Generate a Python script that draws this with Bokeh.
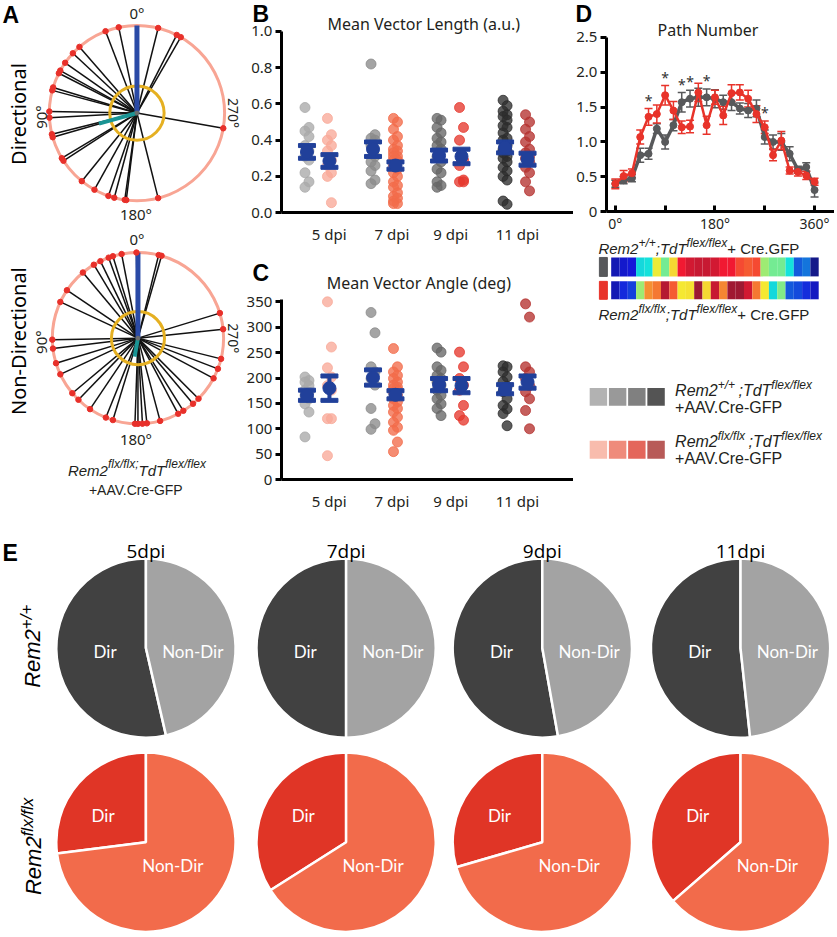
import math
from bokeh.plotting import figure
from bokeh.layouts import row, column
from bokeh.models import (Range1d, FixedTicker, ColumnDataSource, Whisker,
                          TeeHead, PrintfTickFormatter)
from bokeh.transform import linear_cmap
from bokeh.core.properties import value
from bokeh.embed import file_html
from bokeh.resources import INLINE

# ====================== DATA ======================
# A: individual path angles (deg, counter-clockwise, 0 deg at top)
dir_path_angles = [12, 21, 41, 47, 55, 61, 63, 73, 75, 89, 93, 104, 106, 121, 123,
                   141, 151, 161, 165, 172, 173, 194, 260, 330, 333, 346]
nondir_path_angles = [1, 11, 17, 20, 26, 31, 40, 56, 65, 91, 97, 107, 115, 130, 136,
                      146, 158, 163, 178, 180, 183, 186, 195, 208, 212, 220, 225,
                      242, 249, 256, 276, 287, 344, 346]
dir_mean_angle = 105.5
dir_mean_length = 0.45
nondir_mean_angle = 170.0
nondir_mean_length = 0.22
rayleigh_threshold = 0.31

dpi_labels = ["5 dpi", "7 dpi", "9 dpi", "11 dpi"]

# B: mean vector length (a.u.)
mvl_wt_5dpi = [0.58, 0.47, 0.45, 0.42, 0.37, 0.34, 0.31, 0.29, 0.22, 0.17, 0.14]
mvl_ko_5dpi = [0.52, 0.43, 0.40, 0.37, 0.34, 0.29, 0.26, 0.22, 0.20, 0.055]
mvl_wt_7dpi = [0.82, 0.43, 0.41, 0.40, 0.37, 0.31, 0.28, 0.26, 0.23, 0.18, 0.16]
mvl_ko_7dpi = [0.52, 0.50, 0.46, 0.42, 0.40, 0.37, 0.35, 0.34, 0.33, 0.31, 0.31, 0.29,
               0.29, 0.28, 0.26, 0.24, 0.22, 0.20, 0.17, 0.15, 0.14, 0.11, 0.09, 0.08,
               0.064, 0.05, 0.05]
mvl_wt_9dpi = [0.52, 0.51, 0.47, 0.44, 0.41, 0.39, 0.37, 0.35, 0.31, 0.28, 0.24, 0.22,
               0.17, 0.15, 0.14]
mvl_ko_9dpi = [0.58, 0.47, 0.40, 0.29, 0.26, 0.18, 0.17, 0.17]
mvl_wt_11dpi = [0.62, 0.59, 0.56, 0.54, 0.53, 0.51, 0.48, 0.47, 0.44, 0.41, 0.40, 0.37,
                0.35, 0.34, 0.33, 0.31, 0.30, 0.28, 0.25, 0.23, 0.20, 0.18, 0.064, 0.046]
mvl_ko_11dpi = [0.54, 0.50, 0.46, 0.42, 0.39, 0.35, 0.33, 0.31, 0.30, 0.28, 0.25, 0.22,
                0.17, 0.12]
mvl_wt_mean = [0.335, 0.35, 0.315, 0.36]
mvl_wt_sem = [0.035, 0.04, 0.03, 0.03]
mvl_ko_mean = [0.285, 0.26, 0.31, 0.295]
mvl_ko_sem = [0.035, 0.02, 0.04, 0.033]

# C: mean vector angle (deg)
mva_wt_5dpi = [202, 195, 192, 185, 176, 172, 166, 159, 149, 133, 84]
mva_ko_5dpi = [350, 261, 220, 202, 185, 176, 120, 120, 47]
mva_wt_7dpi = [329, 289, 222, 212, 199, 186, 140, 110, 99]
mva_ko_7dpi = [258, 222, 212, 205, 199, 192, 186, 182, 179, 176, 172, 166, 159, 153,
               146, 140, 133, 123, 113, 103, 97, 74, 55]
mva_wt_9dpi = [259, 251, 222, 215, 205, 199, 192, 186, 176, 166, 159, 149, 140, 126]
mva_ko_9dpi = [251, 222, 199, 186, 176, 146, 126, 117]
mva_wt_11dpi = [224, 222, 212, 202, 193, 183, 173, 159, 146, 139, 130, 106]
mva_ko_11dpi = [346, 320, 222, 212, 199, 185, 173, 159, 136, 100]
mva_wt_mean = [166, 201, 187, 178]
mva_wt_sem = [10, 15, 12, 9]
mva_ko_mean = [180, 167, 185, 192]
mva_ko_sem = [24, 8, 14, 12]

# D: path number per direction bin
path_bins = [0, 15, 30, 45, 60, 75, 90, 105, 120, 135, 150, 165, 180, 195, 210, 225,
             240, 255, 270, 285, 300, 315, 330, 345, 360]
path_wt_mean = [0.40, 0.45, 0.48, 0.81, 0.83, 1.19, 1.00, 1.24, 1.57, 1.62, 1.64, 1.64,
                1.62, 1.57, 1.57, 1.48, 1.45, 1.48, 1.07, 1.00, 1.00, 0.83, 0.60, 0.64, 0.31]
path_wt_sem = [0.05, 0.05, 0.05, 0.10, 0.08, 0.07, 0.10, 0.08, 0.14, 0.12, 0.13, 0.12,
               0.13, 0.10, 0.12, 0.08, 0.10, 0.12, 0.10, 0.10, 0.12, 0.10, 0.05, 0.06, 0.10]
path_ko_mean = [0.40, 0.51, 0.55, 1.07, 1.36, 1.40, 1.67, 1.45, 1.21, 1.22, 1.71, 1.24,
                1.64, 1.38, 1.70, 1.71, 1.62, 1.40, 1.21, 0.81, 1.02, 0.59, 0.57, 0.52, 0.43]
path_ko_sem = [0.07, 0.08, 0.06, 0.10, 0.12, 0.13, 0.14, 0.13, 0.09, 0.09, 0.13, 0.13,
               0.10, 0.13, 0.12, 0.11, 0.12, 0.12, 0.09, 0.08, 0.13, 0.05, 0.06, 0.06, 0.05]
path_sig_bins = [60, 90, 120, 135, 165, 270]

# E: fraction of directional cells
pie_titles = ["5dpi", "7dpi", "9dpi", "11dpi"]
wt_dir_fraction = [0.536, 0.50, 0.528, 0.517]
ko_dir_fraction = [0.27, 0.34, 0.295, 0.364]

# ====================== STYLE ======================
wt_colors = ["#a9a9a9", "#8a8a8a", "#676767", "#2d2d2d"]
ko_colors = ["#f8a999", "#f26c4a", "#e6392e", "#b5322f"]
legend_wt = ["#b2b2b2", "#999999", "#808080", "#545454"]
legend_ko = ["#f8bcad", "#ef8b7b", "#e4665b", "#b85a58"]
BLUE = "#21409a"
FONT = "Noto Sans"
FONT_L = "Liberation Sans"
TXT = "#231f20"
MID = 0.3465  # em-box centre above the baseline, as a fraction of the font size

S = 0.996


def s(v):
    return int(round(v * S))


TOTAL_W = s(837)
TOTAL_H = s(937)
WA = s(246)
WB = s(575) - WA
WD = TOTAL_W - WA - WB
HB = s(245)
HC = s(530) - HB
HD = s(234)
HDL = s(530) - HD
HE = TOTAL_H - HB - HC
TOP_C = HB / S   # reference y where panel C starts
TOP_DL = HD / S  # reference y where the heat strips start

ARIAL_W = {'R': 722, 'e': 556, 'm': 833, '2': 556, '+': 584, '/': 278, ';': 278,
           'T': 611, 'd': 556, 'f': 278, 'l': 222, 'x': 500, ' ': 278, 'C': 722,
           'r': 333, '.': 278, 'G': 778, 'F': 611, 'P': 667, 'A': 667, 'V': 667,
           '-': 333}


def tw(t, size):
    return sum(ARIAL_W.get(c, 556) for c in t) * size / 1000.0


def rich(p, x, y, pieces, ux, uy, angle=0.0, align="left", color=TXT):
    """x, y: start of the baseline (data units)."""
    total = sum(tw(t, sz) for t, sz, _, _ in pieces)
    cur = {"left": 0.0, "center": -total / 2.0, "right": -total}[align]
    for t, sz, rise, style in pieces:
        off = rise + MID * sz
        if angle == 0.0:
            px, py = x + cur / ux, y + off / uy
        else:
            px, py = x - off / ux, y + cur / uy
        p.text(x=[px], y=[py], text=[t], angle=angle, text_font=value(FONT_L),
               text_font_size=f"{sz}px", text_font_style=style, text_align="left",
               text_baseline="middle", text_color=color)
        cur += tw(t, sz)


def canvas(w, h, xr, yr, axes=False):
    kw = {} if axes else dict(x_axis_location=None, y_axis_location=None)
    p = figure(width=w, height=h, x_range=Range1d(*xr), y_range=Range1d(*yr),
               toolbar_location=None, output_backend="svg", min_border=0, **kw)
    p.outline_line_color = None
    p.xgrid.visible = False
    p.ygrid.visible = False
    return p


def plain(p, x, y, t, size, angle=0.0, align="center", baseline="middle", color=TXT,
          font=FONT, style="normal"):
    p.text(x=[x], y=[y], text=[t], angle=angle, text_font=value(font),
           text_font_size=f"{size}px", text_align=align, text_baseline=baseline,
           text_color=color, text_font_style=style)


def letter(p, x, y, t):
    plain(p, x, y, t, 23, align="left", baseline="middle", font=FONT_L,
          style="bold", color="black")


def style_axes(p, x_fixed, y_fixed, x_bounds, y_bounds):
    for ax in p.axis:
        ax.axis_line_width = 3
        ax.axis_line_color = "black"
        ax.major_label_text_font = FONT
        ax.major_label_text_font_size = "15px"
        ax.major_label_text_color = TXT
        ax.minor_tick_line_color = None
        ax.major_tick_line_width = 3
        ax.major_tick_line_color = "black"
    p.xaxis.fixed_location = x_fixed
    p.yaxis.fixed_location = y_fixed
    p.xaxis.bounds = x_bounds
    p.yaxis.bounds = y_bounds
    p.yaxis.major_tick_out = 6
    p.yaxis.major_tick_in = 0
    p.yaxis.major_label_standoff = 3


# ====================== PANEL A ======================
pa = canvas(WA, HB + HC, (0, WA / S), (-(HB + HC) / S, 0))


def polar(p, cx, cy, R, angles, mean_ang, mean_len):
    a = [math.radians(v) for v in angles]
    xs = [cx - R * math.sin(t) for t in a]
    ys = [-cy + R * math.cos(t) for t in a]
    p.circle(x=[cx], y=[-cy], radius=R, fill_color=None, line_color="#f8a594",
             line_width=3)
    p.segment(x0=[cx] * len(xs), y0=[-cy] * len(xs), x1=xs, y1=ys,
              line_color="#111111", line_width=1.5)
    p.circle(x=[cx], y=[-cy], radius=rayleigh_threshold * R, fill_color=None,
             line_color="#e5b022", line_width=3)
    p.segment(x0=[cx], y0=[-cy], x1=[cx], y1=[-cy + R], line_color="#2a4aa6",
              line_width=5)
    m = math.radians(mean_ang)
    p.segment(x0=[cx], y0=[-cy], x1=[cx - mean_len * R * math.sin(m)],
              y1=[-cy + mean_len * R * math.cos(m)], line_color="#1a9494", line_width=4)
    p.scatter(x=xs, y=ys, size=5.5, color="#e8302a")
    p.scatter(x=[cx], y=[-cy], size=4, color="#6d6d6d")


polar(pa, 137, 113, 88, dir_path_angles, dir_mean_angle, dir_mean_length)
polar(pa, 138, 339, 86, nondir_path_angles, nondir_mean_angle, nondir_mean_length)

letter(pa, 2, -15, "A")
plain(pa, 18, -114, "Directional", 20, angle=math.pi / 2, color="black")
plain(pa, 18, -342, "Non-Directional", 20, angle=math.pi / 2, color="black")
for cy in (113, 339):
    plain(pa, 137, -(cy - 100), "0°", 15)
    plain(pa, 41, -(cy + 4), "90°", 15, angle=math.pi / 2)
    plain(pa, 136, -(cy + 101), "180°", 15)
    plain(pa, 234, -cy, "270°", 14, angle=-math.pi / 2)
rich(pa, 137, -477, [("Rem2", 15, 0, "italic"), ("flx/flx;", 12, 7, "italic"),
                     ("TdT", 15, 0, "italic"), ("flex/flex", 12, 7, "italic")],
     S, S, align="center")
rich(pa, 137, -496, [("+AAV.Cre-GFP", 14, 0, "normal")], S, S, align="center")

# ====================== PANELS B, C ======================
G0_REF, G_STEP = 319.0, 66.3  # reference x of group 1 and spacing


def g_of(ref_x):
    return 1 + (ref_x - G0_REF) / G_STEP


def yb_of(ref_y):
    return (213.0 - ref_y) / 182.0


def yc_of(ref_y):
    return (481.0 - ref_y) * 355.0 / 181.0


groups = [1, 2, 3, 4]
COL_OFF = 0.17
# x positions of the category labels (reference pixels -> axis units)
label_pos = [round(g_of(v), 3) for v in (330, 393, 452, 519)]


def scatter_panel(p, wt_lists, ko_lists, wt_mean, wt_sem, ko_mean, ko_sem):
    for gi, g in enumerate(groups):
        for side, vals, col in ((-1, wt_lists[gi], wt_colors[gi]),
                                (1, ko_lists[gi], ko_colors[gi])):
            xs = [g + side * COL_OFF + (0.03 if k % 2 else -0.03) for k in range(len(vals))]
            p.scatter(x=xs, y=vals, size=10, color=col, alpha=0.78)
    xm = [g - COL_OFF for g in groups] + [g + COL_OFF for g in groups]
    mm = wt_mean + ko_mean
    ee = wt_sem + ko_sem
    lo = [m - e for m, e in zip(mm, ee)]
    hi = [m + e for m, e in zip(mm, ee)]
    p.segment(x0=xm, y0=lo, x1=xm, y1=hi, line_color=BLUE, line_width=4)
    p.rect(x=xm, y=hi, width=17, height=4, width_units="screen", height_units="screen",
           color=BLUE)
    p.rect(x=xm, y=lo, width=17, height=4, width_units="screen", height_units="screen",
           color=BLUE)
    p.scatter(x=xm, y=mm, size=13, color=BLUE)


xr_bc = (g_of(246), g_of(246 + WB / S))

pb = canvas(WB, HB, xr_bc, (yb_of(HB / S), yb_of(0)), axes=True)
scatter_panel(pb, [mvl_wt_5dpi, mvl_wt_7dpi, mvl_wt_9dpi, mvl_wt_11dpi],
              [mvl_ko_5dpi, mvl_ko_7dpi, mvl_ko_9dpi, mvl_ko_11dpi],
              mvl_wt_mean, mvl_wt_sem, mvl_ko_mean, mvl_ko_sem)
style_axes(pb, 0, g_of(282), (g_of(282), g_of(575)), (0, 1.0))
pb.yaxis.ticker = FixedTicker(ticks=[0, 0.2, 0.4, 0.6, 0.8, 1.0])
pb.yaxis.formatter = PrintfTickFormatter(format="%.1f")
plain(pb, g_of(425), yb_of(24), "Mean Vector Length (a.u.)", 16)
letter(pb, g_of(253), yb_of(14), "B")

pc = canvas(WB, HC, xr_bc, (yc_of(TOP_C + HC / S), yc_of(TOP_C)), axes=True)
scatter_panel(pc, [mva_wt_5dpi, mva_wt_7dpi, mva_wt_9dpi, mva_wt_11dpi],
              [mva_ko_5dpi, mva_ko_7dpi, mva_ko_9dpi, mva_ko_11dpi],
              mva_wt_mean, mva_wt_sem, mva_ko_mean, mva_ko_sem)
style_axes(pc, 0, g_of(282), (g_of(282), g_of(575)), (0, 355))
pc.yaxis.ticker = FixedTicker(ticks=list(range(0, 351, 50)))
plain(pc, g_of(420), yc_of(284), "Mean Vector Angle (deg)", 16)
letter(pc, g_of(253), yc_of(273.5), "C")

for p in (pb, pc):
    p.xaxis.ticker = FixedTicker(ticks=label_pos)
    p.xaxis.major_label_overrides = {g: lab for g, lab in zip(label_pos, dpi_labels)}
    p.xaxis.major_tick_line_color = None
    p.xaxis.major_label_standoff = 5

# ====================== PANEL D ======================
PX_PER_DEG = 0.5556 * S


def deg_of(ref_x):
    return (ref_x - 617.0) / 0.5556


def yd_of(ref_y):
    return (212.0 - ref_y) / 70.0


d_start = deg_of(575)
d_end = d_start + WD / PX_PER_DEG
pd = canvas(WD, HD, (d_start, d_end), (yd_of(HD / S), yd_of(0)), axes=True)
GREY_D = "#58595b"
RED_D = "#e8332a"
for mean, sem, col, lw in ((path_wt_mean, path_wt_sem, GREY_D, 3.5),
                           (path_ko_mean, path_ko_sem, RED_D, 2.5)):
    src = ColumnDataSource(dict(x=path_bins, y=mean,
                                lo=[m - e for m, e in zip(mean, sem)],
                                hi=[m + e for m, e in zip(mean, sem)]))
    pd.line(x="x", y="y", source=src, line_color=col, line_width=lw)
    w = Whisker(source=src, base="x", upper="hi", lower="lo", line_color=col,
                line_width=1.5,
                upper_head=TeeHead(size=8, line_color=col, line_width=1.5),
                lower_head=TeeHead(size=8, line_color=col, line_width=1.5))
    pd.add_layout(w)
    pd.scatter(x="x", y="y", source=src, size=7, color=col)
sig_x, sig_y = [], []
for b in path_sig_bins:
    i = path_bins.index(b)
    sig_x.append(b)
    sig_y.append(max(path_wt_mean[i] + path_wt_sem[i], path_ko_mean[i] + path_ko_sem[i]) + 0.12)
pd.text(x=sig_x, y=sig_y, text=["*"] * len(sig_x), text_align="center",
        text_baseline="middle", text_font=value(FONT), text_font_size="14px",
        text_color="#333333")
style_axes(pd, 0, deg_of(608), (deg_of(608), d_end), (0, 2.5))
pd.yaxis.ticker = FixedTicker(ticks=[0, 0.5, 1.0, 1.5, 2.0, 2.5])
pd.yaxis.formatter = PrintfTickFormatter(format="%.1f")
pd.yaxis.major_label_overrides = {0: "0"}
pd.xaxis.ticker = FixedTicker(ticks=[0, 90, 180, 270, 360])
pd.xaxis.major_label_overrides = {0: "0°", 90: "", 180: "180°", 270: "", 360: "360°"}
pd.xaxis.major_label_text_font_size = "14px"
pd.xaxis.major_tick_in = 6
pd.xaxis.major_tick_out = 0
pd.xaxis.major_label_standoff = 2
plain(pd, deg_of(710), yd_of(30), "Path Number", 16)
letter(pd, deg_of(577), yd_of(14), "D")

# ---- D: heat strips and legend ----
pdl = canvas(WD, HDL, (d_start, d_end), (-(TOP_DL + HDL / S), -TOP_DL))
JET = []
for i in range(256):
    t = i / 255
    r = min(max(1.5 - abs(4 * t - 3), 0), 1)
    g = min(max(1.5 - abs(4 * t - 2), 0), 1)
    b = min(max(1.5 - abs(4 * t - 1), 0), 1)
    JET.append("#%02x%02x%02x" % (int(r * 225 + 20), int(g * 210 + 25), int(b * 170 + 50)))
for vals, yc, h, sq_col in ((path_wt_mean, -267.5, 19, GREY_D),
                            (path_ko_mean, -291, 18, RED_D)):
    src = ColumnDataSource(dict(x=path_bins, v=vals))
    pdl.rect(x="x", y=yc, width=15, height=h, source=src, line_color=None,
             fill_color=linear_cmap("v", JET, 0.3, 1.75))
    pdl.rect(x=[deg_of(605)], y=[yc], width=8 / 0.5556, height=h, color=sq_col)

rich(pdl, deg_of(600), -254, [("Rem2", 15, 0, "italic"), ("+/+", 12, 6, "italic"),
                              (";TdT", 15, 0, "italic"), ("flex/flex", 12, 6, "italic"),
                              (" + Cre.GFP", 15, 0, "normal")], PX_PER_DEG, S)
rich(pdl, deg_of(600), -320, [("Rem2", 15, 0, "italic"), ("flx/flx", 12, 6, "italic"),
                              (";TdT", 15, 0, "italic"), ("flex/flex", 12, 6, "italic"),
                              (" + Cre.GFP", 15, 0, "normal")], PX_PER_DEG, S)

sw_x = [deg_of(600 + 19.3 * i) for i in range(4)]
pdl.rect(x=sw_x, y=[-398] * 4, width=17.5 / 0.5556, height=18, fill_color=legend_wt,
         line_color=None)
pdl.rect(x=sw_x, y=[-451] * 4, width=17.5 / 0.5556, height=18, fill_color=legend_ko,
         line_color=None)
rich(pdl, deg_of(677), -397, [("Rem2", 16, 0, "italic"), ("+/+ ", 12, 7, "italic"),
                              (";TdT", 16, 0, "italic"), ("flex/flex", 12, 7, "italic")],
     PX_PER_DEG, S)
rich(pdl, deg_of(677), -414, [("+AAV.Cre-GFP", 16, 0, "normal")], PX_PER_DEG, S)
rich(pdl, deg_of(677), -448, [("Rem2", 16, 0, "italic"), ("flx/flx ", 12, 7, "italic"),
                              (";TdT", 16, 0, "italic"), ("flex/flex", 12, 7, "italic")],
     PX_PER_DEG, S)
rich(pdl, deg_of(677), -465, [("+AAV.Cre-GFP", 16, 0, "normal")], PX_PER_DEG, S)

# ====================== PANEL E ======================
pe = canvas(TOTAL_W, HE, (0, TOTAL_W / S), (-(530 + HE / S), -530))
pie_x = [146, 347, 544, 743]
row_y = [650, 845]
R_PIE = 90
wx, wy, ws, we, wc = [], [], [], [], []
for i, cx in enumerate(pie_x):
    for cy, frac, cdir, cnon in ((row_y[0], wt_dir_fraction[i], "#414141", "#a3a3a3"),
                                 (row_y[1], ko_dir_fraction[i], "#e03526", "#f26b4b")):
        mid = math.pi / 2 + 2 * math.pi * frac
        wx += [cx, cx]
        wy += [-cy, -cy]
        ws += [math.pi / 2, mid]
        we += [mid, math.pi / 2 + 2 * math.pi]
        wc += [cdir, cnon]
pe.wedge(x=wx, y=wy, radius=R_PIE, start_angle=ws, end_angle=we, fill_color=wc,
         line_color="white", line_width=2.5)
for i, cx in enumerate(pie_x):
    plain(pe, cx, -553, pie_titles[i], 19, color="black", font="Open Sans")
    plain(pe, cx - 41, -653, "Dir", 17, color="white", font="Lato")
    plain(pe, cx + 47, -653, "Non-Dir", 17, color="white", font="Lato")
    plain(pe, cx - 43, -818, "Dir", 17, color="white", font="Lato")
    plain(pe, cx + 27, -868, "Non-Dir", 17, color="white", font="Lato")
letter(pe, 2, -555, "E")
rich(pe, 40, -690, [("Rem2", 22, 0, "italic"), ("+/+", 17, 8, "italic")], S, S,
     angle=math.pi / 2, color="black")
rich(pe, 41, -898, [("Rem2", 22, 0, "italic"), ("flx/flx", 17, 8, "italic")], S, S,
     angle=math.pi / 2, color="black")

layout = column(row(pa, column(pb, pc), column(pd, pdl)), pe)
open("out.html", "w").write(file_html(layout, INLINE))
